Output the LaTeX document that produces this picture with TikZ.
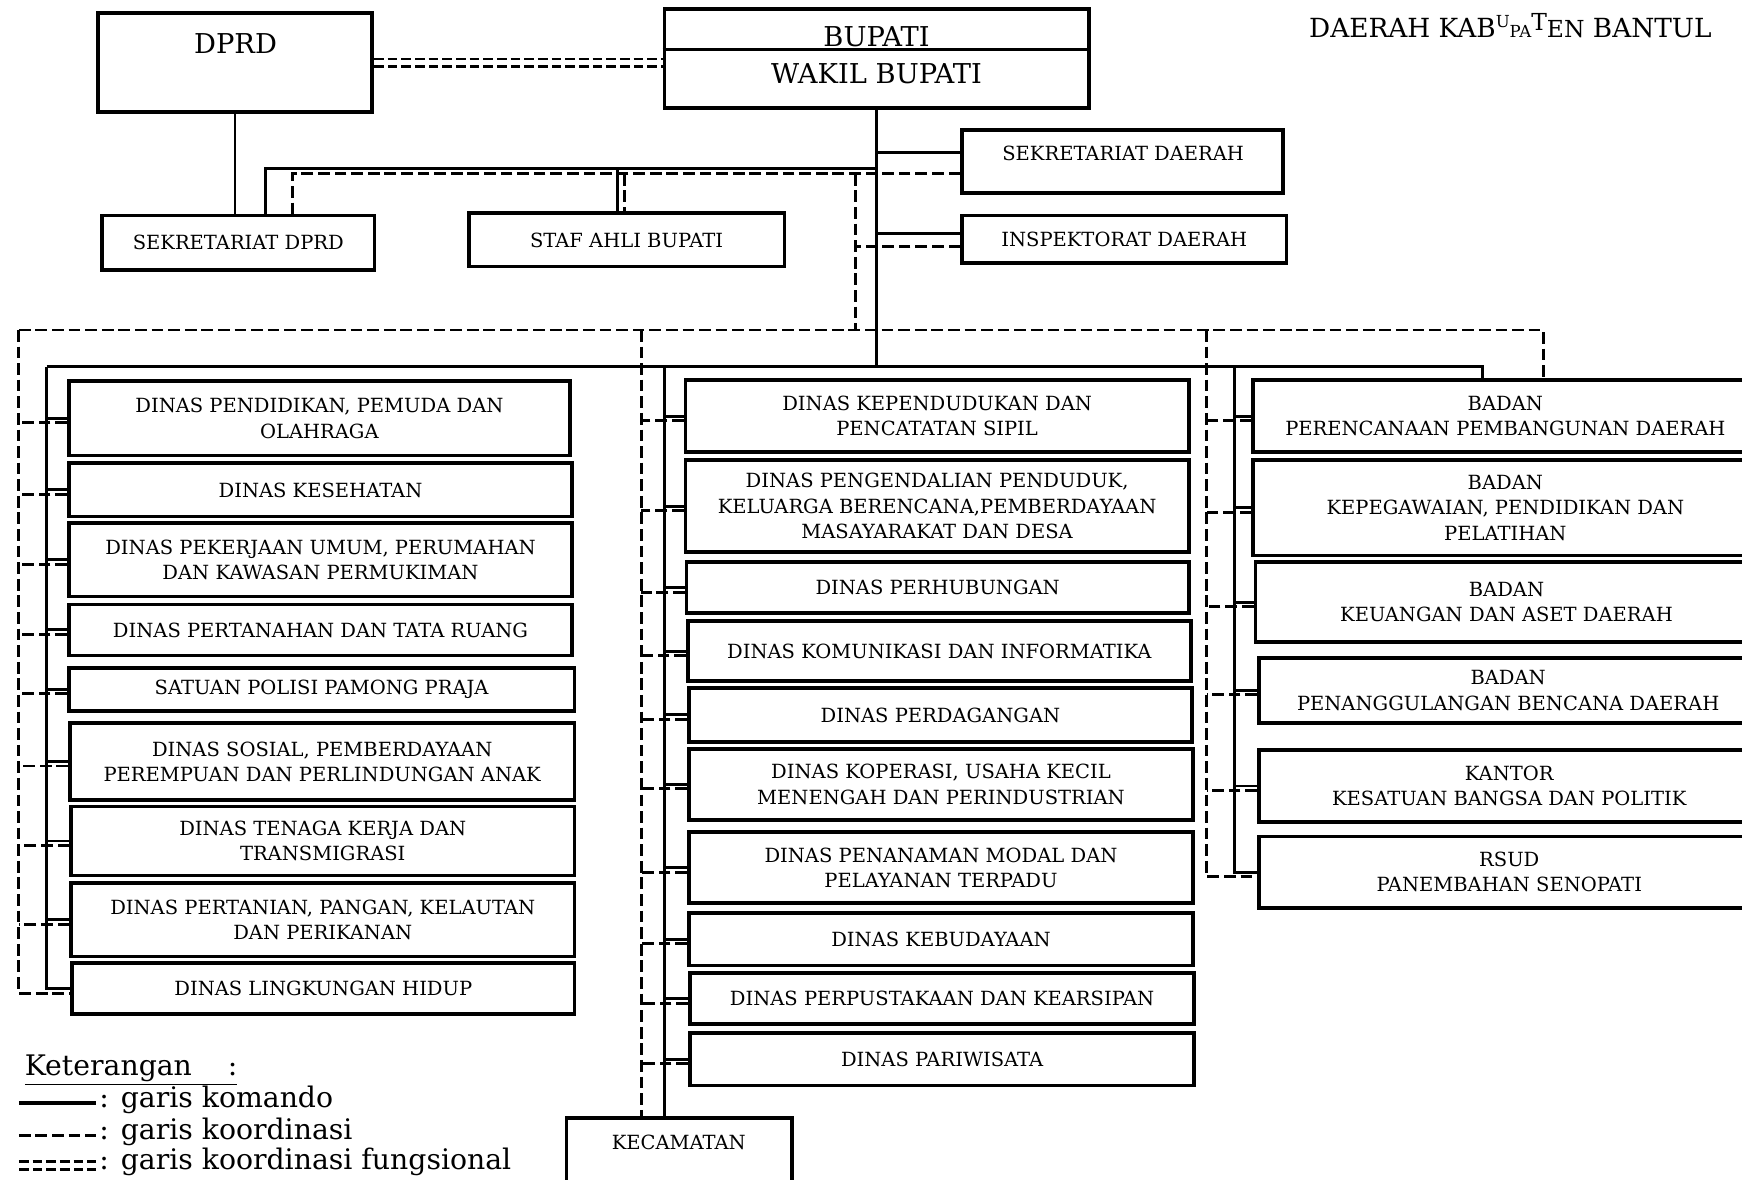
\documentclass[tikz,border=0pt]{standalone}
\usepackage{fontspec}
\setmainfont{DejaVu Serif}

\tikzset{
  unit/.style={draw, line width=1.9pt, inner sep=0pt, align=center,
    font=\fontsize{10}{13}\selectfont},
  teks/.style={font=\fontsize{10}{13}\selectfont},
  kepala/.style={font=\fontsize{14}{16}\selectfont},
  komando/.style={line width=1.5pt},
  koord/.style={line width=1.5pt, dash pattern=on 6pt off 2.5pt},
  fungsi/.style={line width=1.3pt, double distance=2.6pt, dash pattern=on 5pt off 2pt},
  ket/.style={anchor=base west, inner sep=0pt, font=\fontsize{14.5}{16}\selectfont},
}
% kotak unit dari pojok kiri atas (#2,#3) ke pojok kanan bawah (#4,#5)
\newcommand{\unitbox}[6]{%
  \node[unit, minimum width={(#4-#2)*0.02cm}, minimum height={(#5-#3)*0.02cm}]
    (#1) at ({(#2+#4)/2},{(#3+#5)/2}) {#6};}

\begin{document}
\begin{tikzpicture}[x=0.02cm, y=-0.02cm]
  \useasboundingbox (0,0) rectangle (1568,1062);
  \clip (0,0) rectangle (1568,1062);

  % judul
  \node[anchor=base west, inner sep=0pt, font=\fontsize{13.5}{16}\selectfont] (judul) at (1178,34)
    {DAERAH KAB\raisebox{5.5pt}{\fontsize{8.5}{9}\selectfont U}{\fontsize{8.5}{9}\selectfont PA}\raisebox{3.5pt}{\fontsize{12}{13}\selectfont T}{\fontsize{12}{13}\selectfont EN} BANTUL};

  % pimpinan
  \unitbox{dprd}{88}{12}{335}{101}{}
  \node[kepala] (dprdt) at (212,39) {DPRD};
  \unitbox{bupati}{598}{8}{980}{97}{}
  \node[kepala] (bupt) at (789,33) {BUPATI};
  \node[kepala] (wabupt) at (789,66) {WAKIL BUPATI};
  \path (bupati.north west) +(0,38) coordinate (bupl)
        (bupati.north east) +(0,38) coordinate (bupr);
  \draw[komando] (bupl) -- (bupr);

  \unitbox{sekda}{866}{117}{1155}{174}{}
  \node[teks] (sekdat) at (1011,138) {SEKRETARIAT DAERAH};
  \unitbox{inspek}{866}{194}{1158}{237}{INSPEKTORAT DAERAH}
  \unitbox{sekdprd}{92}{194}{337}{243}{SEKRETARIAT DPRD}
  \unitbox{staf}{422}{192}{706}{240}{STAF AHLI BUPATI}

  % dinas kolom kiri
  \unitbox{dik}{62}{343}{513}{410}{DINAS PENDIDIKAN, PEMUDA DAN\\OLAHRAGA}
  \unitbox{kes}{62}{417}{515}{465}{DINAS KESEHATAN}
  \unitbox{pu}{62}{471}{515}{537}{DINAS PEKERJAAN UMUM, PERUMAHAN\\DAN KAWASAN PERMUKIMAN}
  \unitbox{tanah}{62}{544}{515}{590}{DINAS PERTANAHAN DAN TATA RUANG}
  \unitbox{satpol}{62}{601}{517}{640}{SATUAN POLISI PAMONG PRAJA}
  \unitbox{sos}{63}{651}{517}{720}{DINAS SOSIAL, PEMBERDAYAAN\\PEREMPUAN DAN PERLINDUNGAN ANAK}
  \unitbox{naker}{64}{726}{517}{788}{DINAS TENAGA KERJA DAN\\TRANSMIGRASI}
  \unitbox{tani}{64}{795}{517}{861}{DINAS PERTANIAN, PANGAN, KELAUTAN\\DAN PERIKANAN}
  \unitbox{lh}{65}{867}{517}{913}{DINAS LINGKUNGAN HIDUP}

  % dinas kolom tengah
  \unitbox{duk}{617}{342}{1070}{407}{DINAS KEPENDUDUKAN DAN\\PENCATATAN SIPIL}
  \unitbox{dalduk}{617}{414}{1070}{497}{DINAS PENGENDALIAN PENDUDUK,\\KELUARGA BERENCANA,PEMBERDAYAAN\\MASAYARAKAT DAN DESA}
  \unitbox{hub}{618}{506}{1070}{552}{DINAS PERHUBUNGAN}
  \unitbox{kominfo}{619}{559}{1072}{613}{DINAS KOMUNIKASI DAN INFORMATIKA}
  \unitbox{dag}{620}{619}{1073}{668}{DINAS PERDAGANGAN}
  \unitbox{kop}{620}{674}{1074}{738}{DINAS KOPERASI, USAHA KECIL\\MENENGAH DAN PERINDUSTRIAN}
  \unitbox{pm}{620}{749}{1074}{813}{DINAS PENANAMAN MODAL DAN\\PELAYANAN TERPADU}
  \unitbox{bud}{620}{822}{1074}{869}{DINAS KEBUDAYAAN}
  \unitbox{pus}{621}{876}{1075}{922}{DINAS PERPUSTAKAAN DAN KEARSIPAN}
  \unitbox{wisata}{621}{930}{1075}{977}{DINAS PARIWISATA}
  \unitbox{kec}{510}{1006}{713}{1090}{}
  \node[teks] (kect) at (611,1028) {KECAMATAN};

  % badan kolom kanan
  \unitbox{bap}{1128}{342}{1582}{407}{BADAN\\PERENCANAAN PEMBANGUNAN DAERAH}
  \unitbox{bkpp}{1128}{414}{1582}{500}{BADAN\\KEPEGAWAIAN, PENDIDIKAN DAN\\PELATIHAN}
  \unitbox{bkad}{1130}{506}{1582}{578}{BADAN\\KEUANGAN DAN ASET DAERAH}
  \unitbox{bpbd}{1133}{592}{1582}{651}{BADAN\\PENANGGULANGAN BENCANA DAERAH}
  \unitbox{kesbang}{1133}{675}{1584}{740}{KANTOR\\KESATUAN BANGSA DAN POLITIK}
  \unitbox{rsud}{1133}{753}{1584}{817}{RSUD\\PANEMBAHAN SENOPATI}

  % titik bantu
  \coordinate (sbus) at (239,152);
  \coordinate (sstaf) at (556,0);
  \coordinate (dbus) at (263,0);
  \coordinate (dstaf) at (562,0);
  \coordinate (dv) at (770,0);
  \coordinate (kl) at (42,330);
  \coordinate (kr) at (1334,330);
  \coordinate (dl) at (17,297);
  \coordinate (dr) at (1389,297);
  \coordinate (mk) at (598,330);
  \coordinate (md) at (577,297);
  \coordinate (rk) at (1111,330);
  \coordinate (rd) at (1086,297);

  % garis atas
  \draw[fungsi] (dprd.east) -- (dprd.east -| bupati.west);
  \draw[komando] (dprd.south) -- (dprd.south |- sekdprd.north);
  \draw[komando] (bupati.south) -- (bupati.south |- kl);
  \draw[komando] (sbus -| bupati.south) -- (sbus) -- (sbus |- sekdprd.north);
  \draw[komando] (sbus -| sstaf) -- (sstaf |- staf.north);
  \path (sekda.west) +(0,-8) coordinate (sekdak);
  \draw[komando] (sekdak) -- (sekdak -| bupati.south);
  \path (inspek.west) +(0,-5) coordinate (inspk);
  \draw[komando] (inspk) -- (inspk -| bupati.south);
  \path (sekda.west) +(0,11) coordinate (sekdad);
  \draw[koord] (sekdad) -- (sekdad -| dbus) -- (dbus |- sekdprd.north);
  \draw[koord] (sekdad -| dstaf) -- (dstaf |- staf.north);
  \draw[koord] (sekdad -| dv) -- (dv |- dl);
  \path (inspek.west) +(0,6) coordinate (inspd);
  \draw[koord] (inspd) -- (inspd -| dv);

  % garis bawah
  \draw[komando] (kl) -- (kr) -- (kr |- bap.north);
  \draw[koord] (dl) -- (dr) -- (dr |- bap.north);
  \path (lh.west) +(0,4) coordinate (lh-d);
  \draw[komando] (kl) -- (kl |- lh.west) -- (lh.west);
  \draw[koord] (dl) -- (dl |- lh-d) -- (lh-d);
  \draw[komando] (mk) -- (mk |- kec.north);
  \draw[koord] (md) -- (md |- kec.north);
  \path (rsud.west) +(0,4) coordinate (rsud-d);
  \draw[komando] (rk) -- (rk |- rsud.west) -- (rsud.west);
  \draw[koord] (rd) -- (rd |- rsud-d) -- (rsud-d);

  \foreach \n in {dik,kes,pu,tanah,satpol,sos,naker,tani} {
    \path (\n.west) +(0,4) coordinate (\n-d);
    \draw[komando] (\n.west) -- (\n.west -| kl);
    \draw[koord] (\n-d) -- (\n-d -| dl);
  }
  \foreach \n in {duk,dalduk,hub,kominfo,dag,kop,pm,bud,pus,wisata} {
    \path (\n.west) +(0,4) coordinate (\n-d);
    \draw[komando] (\n.west) -- (\n.west -| mk);
    \draw[koord] (\n-d) -- (\n-d -| md);
  }
  \foreach \n in {bap,bkpp,bkad,bpbd,kesbang} {
    \path (\n.west) +(0,4) coordinate (\n-d);
    \draw[komando] (\n.west) -- (\n.west -| rk);
    \draw[koord] (\n-d) -- (\n-d -| rd);
  }

  % keterangan
  \node[ket] (keter) at (22,968) {\underline{Keterangan\ \ \ \ :}};
  \coordinate (lg1a) at (17,993); \coordinate (lg1b) at (86,993);
  \draw[komando, line width=1.9pt] (lg1a) -- (lg1b);
  \node[ket] (lgkom) at (89,997) {: garis komando};
  \coordinate (lg2a) at (17,1022); \coordinate (lg2b) at (86,1022);
  \draw[koord, line width=1.9pt] (lg2a) -- (lg2b);
  \node[ket] (lgkoo) at (89,1026) {: garis koordinasi};
  \coordinate (lg3a) at (17,1049); \coordinate (lg3b) at (86,1049);
  \draw[fungsi] (lg3a) -- (lg3b);
  \node[ket] (lgfun) at (89,1053) {: garis koordinasi fungsional};
\end{tikzpicture}
\end{document}
